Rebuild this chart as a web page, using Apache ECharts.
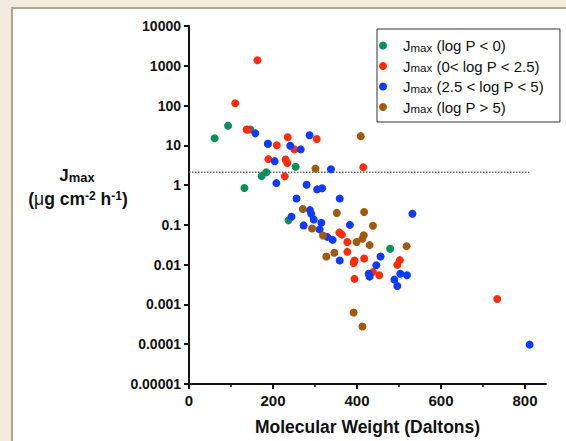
<!DOCTYPE html>
<html>
<head>
<meta charset="utf-8">
<script src="https://cdn.jsdelivr.net/npm/echarts@6/dist/echarts.min.js"></script>
<style>
  html, body { margin: 0; padding: 0; background: #F3EBDD; }
  #frame {
    position: absolute; left: 11px; top: 7px; right: 0; bottom: 0;
    background: #fff;
    border-left: 2px solid #B7A68D;
    border-top: 2px solid #B7A68D;
  }
  #chart { position: absolute; left: 0; top: 0; width: 566px; height: 441px; }
</style>
</head>
<body>
<div id="frame"></div>
<div id="chart"></div>
<script>
// Jmax vs molecular weight, grouped by log P
const greenMW = [61, 93, 146, 188, 173, 184, 132, 254, 237, 479];
const greenJ = [15, 31, 25, 11, 1.7, 2.1, 0.85, 2.9, 0.13, 0.025];

const redMW = [163, 110, 137, 140, 235, 209, 251, 304, 189, 230, 234, 228, 415,
  358, 364, 377, 377, 394, 392, 417, 394, 438, 453, 502, 496, 734];
const redJ = [1380, 114, 25, 25, 16, 10, 7.9, 14.4, 4.5, 4.4, 3.6, 1.66, 2.8,
  0.064, 0.057, 0.037, 0.021, 0.0127, 0.011, 0.0143, 0.0044, 0.0065, 0.0054, 0.013, 0.0099, 0.00137];

const blueMW = [158, 188, 241, 266, 287, 204, 208, 280, 305, 317, 338, 256, 359,
  244, 288, 291, 297, 273, 315, 311, 329, 342, 383, 359, 456, 446, 428, 430,
  532, 503, 519, 489, 496, 811];
const blueJ = [20, 11, 9.8, 7.9, 18, 4.0, 1.12, 1.02, 0.78, 0.83, 2.5, 0.46, 0.46,
  0.16, 0.235, 0.19, 0.137, 0.097, 0.113, 0.077, 0.05, 0.042, 0.10, 0.0127, 0.016, 0.0097, 0.0059, 0.005,
  0.19, 0.0059, 0.0054, 0.0042, 0.0029, 0.0000975];

const brownMW = [409, 301, 271, 352, 417, 438, 293, 319, 399, 413, 416, 430, 346, 327, 518, 392, 413];
const brownJ = [17, 2.6, 0.25, 0.2, 0.21, 0.095, 0.081, 0.054, 0.037, 0.045, 0.055, 0.031,
  0.02, 0.016, 0.029, 0.00063, 0.00028];

// dotted reference line
const refMW = [0, 810];
const refJ = [2.1, 2.1];

const seriesNames = ['(log P < 0)', '(0< log P < 2.5)', '(2.5 < log P < 5)', '(log P > 5)'];
const xTicks = [0, 200, 400, 600, 800];
const xMinorTicks = [100, 300, 500, 700];
const yTickLabels = ['0.00001', '0.0001', '0.001', '0.01', '0.1', '1', '10', '100', '1000', '10000'];

const colors = ['#0B8F58', '#FF2D0D', '#0F3BFF', '#A05A0F'];
const FONT = '"Liberation Sans", Arial, sans-serif';

const zip = (xs, ys) => xs.map((x, i) => [x, ys[i]]);
const groups = [zip(greenMW, greenJ), zip(redMW, redJ), zip(blueMW, blueJ), zip(brownMW, brownJ)];

const chart = echarts.init(document.getElementById('chart'), null, { renderer: 'svg' });

const option = {
  backgroundColor: 'transparent',
  textStyle: { fontFamily: FONT },
  grid: { left: 189, top: 26, right: 20, bottom: 57 },
  legend: {
    orient: 'vertical',
    left: 377,
    top: 29,
    padding: [9, 16, 7, 2],
    itemGap: 5,
    itemWidth: 30,
    itemHeight: 8,
    icon: 'circle',
    borderColor: '#333',
    borderWidth: 1,
    backgroundColor: '#fff',
    data: seriesNames,
    formatter: name => '{j|J}{s|max}{t| ' + name + '}',
    textStyle: {
      fontFamily: FONT,
      rich: {
        j: { fontSize: 15, lineHeight: 16, color: '#111', fontFamily: FONT },
        s: { fontSize: 11.5, lineHeight: 6, verticalAlign: 'bottom', color: '#111', fontFamily: FONT },
        t: { fontSize: 15, lineHeight: 16, color: '#111', fontFamily: FONT }
      }
    }
  },
  xAxis: [{
    type: 'value',
    min: 0,
    max: 850,
    interval: 200,
    name: 'Molecular Weight (Daltons)',
    nameLocation: 'middle',
    nameGap: 34,
    nameTextStyle: { fontSize: 17.5, fontWeight: 'bold', color: '#111', fontFamily: FONT },
    axisLine: { lineStyle: { color: '#111', width: 2 } },
    axisTick: { length: 5, customValues: xTicks, lineStyle: { color: '#111', width: 2 } },
    axisLabel: {
      customValues: xTicks,
      margin: 9,
      fontSize: 15,
      fontWeight: 'bold',
      color: '#111',
      fontFamily: FONT
    },
    splitLine: { show: false }
  }, {
    type: 'value',
    min: 0,
    max: 850,
    position: 'bottom',
    axisLine: { show: false },
    axisTick: { length: 3, customValues: xMinorTicks, lineStyle: { color: '#111', width: 1.5 } },
    axisLabel: { show: false },
    splitLine: { show: false }
  }],
  yAxis: {
    type: 'log',
    logBase: 10,
    min: 0.00001,
    max: 10000,
    axisLine: { show: true, lineStyle: { color: '#111', width: 2 } },
    axisTick: { show: true, length: 5, lineStyle: { color: '#111', width: 2 } },
    axisLabel: {
      margin: 8,
      fontSize: 14,
      fontWeight: 'bold',
      color: '#111',
      fontFamily: FONT,
      formatter: v => yTickLabels[Math.round(Math.log10(v)) + 5]
    },
    splitLine: { show: false }
  },
  graphic: [{
    type: 'text',
    x: 77,
    y: 175,
    style: {
      text: '{b|J}{s|max}',
      align: 'center',
      verticalAlign: 'middle',
      rich: {
        b: { fontSize: 17, fontWeight: 'bold', lineHeight: 18, fill: '#111', fontFamily: FONT },
        s: { fontSize: 13, fontWeight: 'bold', lineHeight: 8, verticalAlign: 'bottom', fill: '#111', fontFamily: FONT }
      }
    }
  }, {
    type: 'text',
    x: 78,
    y: 199,
    style: {
      text: '{b|(}{m|μ}{b|g cm}{p|-2}{b| h}{p|-1}{b|)}',
      align: 'center',
      verticalAlign: 'middle',
      rich: {
        b: { fontSize: 17.5, fontWeight: 'bold', lineHeight: 18, fill: '#111', fontFamily: FONT },
        m: { fontSize: 17.5, lineHeight: 18, fill: '#111', fontFamily: FONT },
        p: { fontSize: 12, fontWeight: 'bold', lineHeight: 9, verticalAlign: 'top', fill: '#111', fontFamily: FONT }
      }
    }
  }],
  series: [
    {
      type: 'line',
      data: zip(refMW, refJ),
      showSymbol: false,
      silent: true,
      lineStyle: { color: '#666', width: 1.5, type: 'dotted' },
      z: 1
    },
    ...groups.map((d, i) => ({
      name: seriesNames[i],
      type: 'scatter',
      data: d,
      symbol: 'circle',
      symbolSize: 8,
      itemStyle: { color: colors[i], opacity: 1 },
      z: 2 + i
    }))
  ]
};

chart.setOption(option);
</script>
</body>
</html>
